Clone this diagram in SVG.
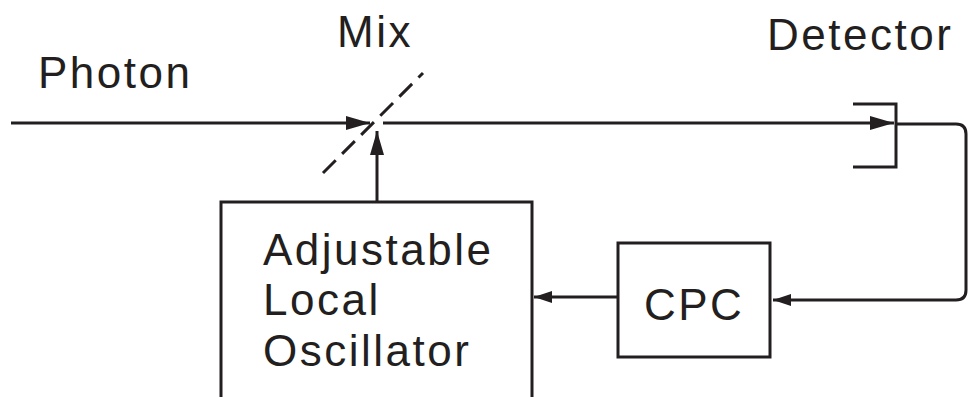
<svg xmlns="http://www.w3.org/2000/svg" width="969" height="397" viewBox="0 0 969 397">
<style>
.t{font-family:"Liberation Sans",Arial,sans-serif;font-size:44px;letter-spacing:2.5px;fill:#231f20}
.l{fill:none;stroke:#231f20;stroke-width:3}
</style>
<defs>
<marker id="ah" markerUnits="userSpaceOnUse" markerWidth="26" markerHeight="14" refX="24" refY="7" orient="auto">
<path d="M0,0 L24,7 L0,14 Z" fill="#231f20"/>
</marker>
<marker id="as" markerUnits="userSpaceOnUse" markerWidth="20" markerHeight="12" refX="18" refY="6" orient="auto">
<path d="M0,0 L18,6 L0,12 Z" fill="#231f20"/>
</marker>
</defs>
<rect width="969" height="397" fill="#fff"/>
<g id="labels">
<text class="t" x="38" y="88">Photon</text>
<text class="t" x="337" y="47">Mix</text>
<text class="t" x="767" y="50">Detector</text>
</g>
<g id="mixer">
<line class="l" x1="323" y1="173" x2="423" y2="73" stroke-dasharray="18,9"/>
</g>
<g id="detector">
<polyline class="l" points="853,104 896,104 896,167 853,167"/>
</g>
<g id="oscillator">
<polyline class="l" points="221,397 221,202 532,202 532,397"/>
<text class="t" x="263" y="265">Adjustable</text>
<text class="t" x="263" y="315">Local</text>
<text class="t" x="263" y="366">Oscillator</text>
</g>
<g id="cpc">
<rect class="l" x="618" y="243" width="152" height="114"/>
<text class="t" x="644" y="320">CPC</text>
</g>
<g id="connectors">
<line class="l" x1="11" y1="123" x2="370" y2="123" marker-end="url(#ah)"/>
<line class="l" x1="383" y1="123" x2="894" y2="123" marker-end="url(#ah)"/>
<line class="l" x1="377" y1="201" x2="377" y2="131" marker-end="url(#ah)"/>
<path class="l" d="M896,124 H956 Q966,124 966,134 V290 Q966,300 956,300 H773" marker-end="url(#as)"/>
<line class="l" x1="618" y1="297" x2="534" y2="297" marker-end="url(#as)"/>
</g>
</svg>
